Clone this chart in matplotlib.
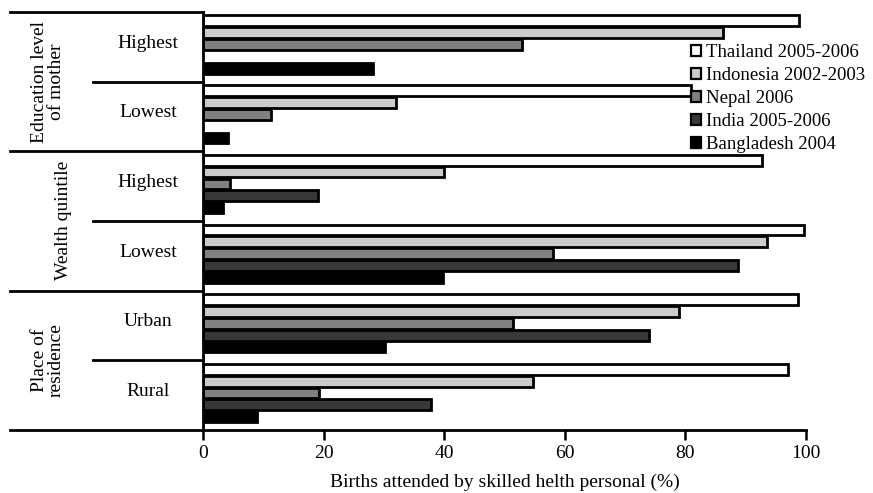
import numpy as np
import matplotlib
matplotlib.use('Agg')
import matplotlib.pyplot as plt
from matplotlib.patches import Patch

plt.rcParams['font.family'] = ['Liberation Serif', 'DejaVu Serif']

# groups (top to bottom) and their sub-categories
groups = ['Education level\nof mother', 'Wealth quintile', 'Place of\nresidence']
subcats = ['Highest', 'Lowest', 'Highest', 'Lowest', 'Urban', 'Rural']
countries = ['Thailand 2005-2006', 'Indonesia 2002-2003', 'Nepal 2006',
             'India 2005-2006', 'Bangladesh 2004']
colors = ['white', '#cccccc', '#808080', '#383838', 'black']

# values per country, one per sub-category (nan = not reported)
thailand = [98.8, 81.0, 92.7, 99.7, 98.7, 97.0]
indonesia = [86.2, 32.0, 40.0, 93.5, 79.0, 54.7]
nepal = [53.0, 11.3, 4.5, 58.0, 51.5, 19.2]
india = [np.nan, np.nan, 19.1, 88.8, 74.0, 37.8]
bangladesh = [28.2, 4.2, 3.3, 39.8, 30.2, 9.0]
series = [thailand, indonesia, nepal, india, bangladesh]

fig = plt.figure(figsize=(8.73, 4.93), dpi=100)
ax = fig.add_axes([0.2325, 0.128, 0.6905, 0.848])

h = 0.155
for k, (vals, col, name) in enumerate(zip(series, colors, countries)):
    y = np.arange(len(subcats)) + 0.13 + 0.17 * k
    ax.barh(y, vals, height=h, color=col, edgecolor='black', linewidth=2.0, label=name)

ax.set_ylim(6, 0)
ax.set_xlim(0, 100)
ax.set_xticks([0, 20, 40, 60, 80, 100])
ax.tick_params(axis='x', labelsize=14, width=1.8, length=7, direction='out', pad=4)
ax.set_yticks([])
for s in ['top', 'right']:
    ax.spines[s].set_visible(False)
ax.spines['left'].set_linewidth(2.0)
ax.spines['bottom'].set_linewidth(2.0)
ax.set_xlabel('Births attended by skilled helth personal (%)', fontsize=14, labelpad=8)

# left-side table of labels
tr = ax.get_yaxis_transform()
for yb in [0, 2, 4, 6]:
    ax.plot([-0.32, 0], [yb, yb], color='black', lw=2.0, transform=tr, clip_on=False)
for yb in [1, 3, 5]:
    ax.plot([-0.182, 0], [yb, yb], color='black', lw=2.0, transform=tr, clip_on=False)
for i, lab in enumerate(subcats):
    ax.text(-0.091, i + 0.45, lab, transform=tr, ha='center', va='center', fontsize=14)
gx = [-0.257, -0.232, -0.257]
for i, lab in enumerate(groups):
    ax.text(gx[i], 2 * i + 1, lab, transform=tr, ha='center', va='center',
            rotation=90, fontsize=14, linespacing=0.95)

handles = [Patch(facecolor=c, edgecolor='black', linewidth=1.6) for c in colors]
fig.legend(handles, countries, loc='upper left', bbox_to_anchor=(0.781, 0.93),
           frameon=False, fontsize=13.5, handlelength=0.5, handleheight=0.5,
           handletextpad=0.3, labelspacing=0.32, borderpad=0)

fig.savefig('out.png', dpi=100)
